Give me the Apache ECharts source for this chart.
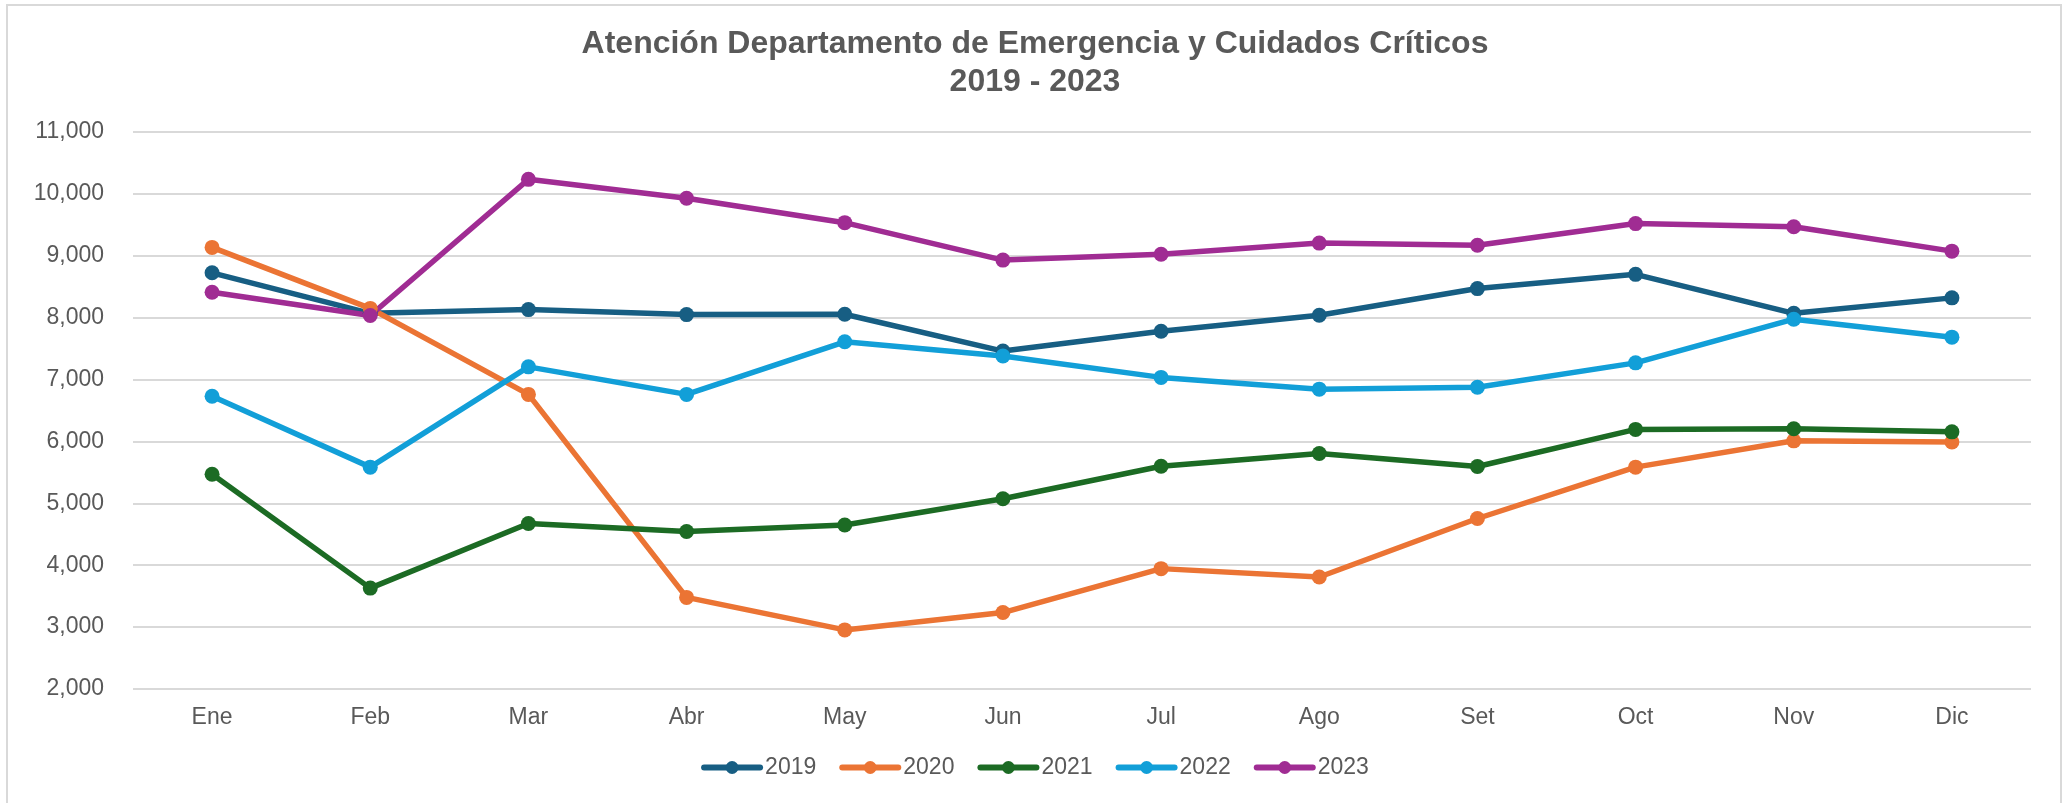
<!DOCTYPE html>
<html>
<head>
<meta charset="utf-8">
<script src="https://cdn.jsdelivr.net/npm/echarts@6/dist/echarts.min.js"></script>
<style>
    html, body { margin: 0; padding: 0; background: #fff; }
    #chart { width: 2070px; height: 803px; }
</style>
</head>
<body>
<div id="chart"></div>
<script>
// data
const months = ['Ene', 'Feb', 'Mar', 'Abr', 'May', 'Jun', 'Jul', 'Ago', 'Set', 'Oct', 'Nov', 'Dic']
const years = ['2019', '2020', '2021', '2022', '2023']
const data2019 = [8725, 8070, 8130, 8050, 8055, 7460, 7780, 8040, 8470, 8700, 8070, 8320]
const data2020 = [9135, 8150, 6760, 3480, 2955, 3235, 3945, 3810, 4755, 5585, 6010, 5990]
const data2021 = [5470, 3630, 4675, 4545, 4650, 5075, 5600, 5805, 5595, 6195, 6205, 6155]
const data2022 = [6730, 5585, 7205, 6760, 7610, 7380, 7035, 6845, 6875, 7270, 7975, 7685]
const data2023 = [8410, 8035, 10235, 9930, 9535, 8930, 9025, 9205, 9170, 9520, 9470, 9075]
const yTicks = { min: 2000, max: 11000, interval: 1000 }
const colors = ['#175E83', '#EB7434', '#1C6B24', '#129FD8', '#A02C93']

const seriesData = [data2019, data2020, data2021, data2022, data2023]
const font = '"Liberation Sans", Arial, sans-serif'
const textColor = '#595959'

function paintChart(dom) {
    let myChart = echarts.init(dom)
    let option = {
        color: colors,
        animation: false,
        textStyle: { fontFamily: font },
        title: {
            text: 'Atención Departamento de Emergencia y Cuidados Críticos\n2019 - 2023',
            left: '50%',
            top: 25,
            padding: 0,
            textAlign: 'center',
            textStyle: {
                fontFamily: font,
                fontSize: 32,
                fontWeight: 'bold',
                color: textColor,
                lineHeight: 38,
            },
        },
        graphic: [
            {
                type: 'rect',
                silent: true,
                shape: { x: 7, y: 5, width: 2054, height: 830 },
                style: { fill: 'none', stroke: '#d9d9d9', lineWidth: 2 },
            },
        ],
        grid: {
            left: 133,
            right: 39,
            top: 132,
            bottom: 114,
        },
        legend: {
            data: years,
            bottom: 19,
            left: 'center',
            itemWidth: 56,
            itemHeight: 16,
            itemGap: 23,
            lineStyle: { width: 6, cap: 'round' },
            textStyle: { fontFamily: font, fontSize: 23, color: textColor },
        },
        xAxis: {
            type: 'category',
            data: months,
            boundaryGap: true,
            axisLine: { show: false },
            axisTick: { show: false },
            axisLabel: { fontFamily: font, fontSize: 23, color: textColor, margin: 17 },
        },
        yAxis: {
            type: 'value',
            min: yTicks.min,
            max: yTicks.max,
            interval: yTicks.interval,
            axisLine: { show: false },
            axisTick: { show: false },
            splitLine: { lineStyle: { color: '#d9d9d9', width: 2 } },
            axisLabel: {
                fontFamily: font,
                fontSize: 23,
                color: textColor,
                margin: 29,
                formatter: (v) => v.toLocaleString('en-US'),
            },
        },
        series: years.map((name, i) => ({
            name: name,
            type: 'line',
            data: seriesData[i],
            symbol: 'circle',
            symbolSize: 15,
            lineStyle: { width: 5.5 },
        })),
    }
    myChart.setOption(option)
}
paintChart(document.getElementById('chart'))
</script>
</body>
</html>
